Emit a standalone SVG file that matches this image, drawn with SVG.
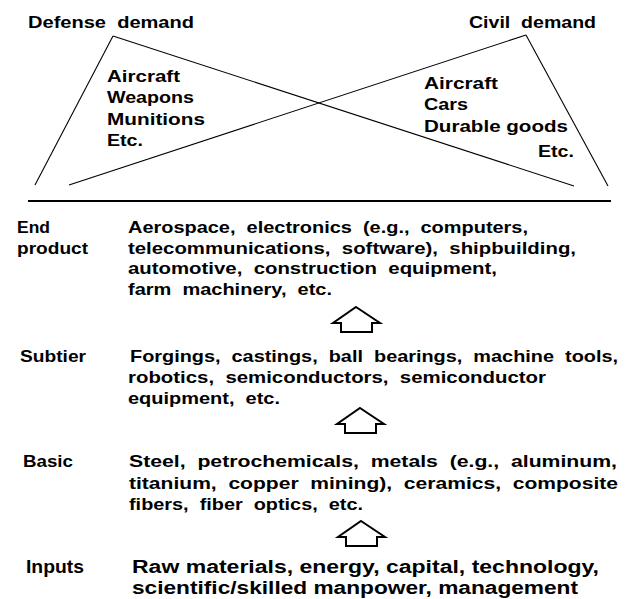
<svg xmlns="http://www.w3.org/2000/svg" xmlns:xlink="http://www.w3.org/1999/xlink" width="626" height="599" viewBox="0 0 626 599">
<style>
text{font-family:"Liberation Sans",Arial,Helvetica,sans-serif;font-weight:bold;font-size:17px;fill:#000;white-space:pre}
.big{font-size:18px}
.ln{stroke:#000;stroke-width:1.1;fill:none}
.rule{stroke:#000;stroke-width:1.8}
.arr{fill:#fff;stroke:#000;stroke-width:2;stroke-linejoin:miter}
</style>
<defs>
<polygon id="uparrow" class="arr" points="0,0 24,16 16,16 16,25 -15,25 -15,16 -23,16"/>
</defs>
<rect width="626" height="599" fill="#fff"/>
<g id="connectors">
<line class="ln" x1="113" y1="36" x2="35" y2="185"/>
<line class="ln" x1="113" y1="36" x2="574" y2="186"/>
<line class="ln" x1="526" y1="35" x2="608" y2="186"/>
<line class="ln" x1="526" y1="35" x2="69" y2="185"/>
<line class="rule" x1="28" y1="201" x2="611" y2="201"/>
<use xlink:href="#uparrow" href="#uparrow" x="356" y="307"/>
<use xlink:href="#uparrow" href="#uparrow" x="360" y="408"/>
<use xlink:href="#uparrow" href="#uparrow" x="361" y="521"/>
</g>
<g id="defense">
<text x="28" y="28" textLength="166" lengthAdjust="spacingAndGlyphs">Defense  demand</text>
<text x="107" y="82" textLength="73" lengthAdjust="spacingAndGlyphs">Aircraft</text>
<text x="107" y="103" textLength="87" lengthAdjust="spacingAndGlyphs">Weapons</text>
<text x="107" y="125" textLength="98" lengthAdjust="spacingAndGlyphs">Munitions</text>
<text x="107" y="146" textLength="36" lengthAdjust="spacingAndGlyphs">Etc.</text>
</g>
<g id="civil">
<text x="469" y="28" textLength="127" lengthAdjust="spacingAndGlyphs">Civil  demand</text>
<text x="424" y="89" textLength="74" lengthAdjust="spacingAndGlyphs">Aircraft</text>
<text x="424" y="110" textLength="44" lengthAdjust="spacingAndGlyphs">Cars</text>
<text x="424" y="132" textLength="144" lengthAdjust="spacingAndGlyphs">Durable goods</text>
<text x="538" y="157" textLength="36" lengthAdjust="spacingAndGlyphs">Etc.</text>
</g>
<g id="end-product">
<text x="17" y="233" textLength="33" lengthAdjust="spacingAndGlyphs">End</text>
<text x="17" y="254" textLength="71" lengthAdjust="spacingAndGlyphs">product</text>
<text x="128" y="233" textLength="400" lengthAdjust="spacingAndGlyphs">Aerospace,  electronics  (e.g.,  computers,</text>
<text x="128" y="254" textLength="448" lengthAdjust="spacingAndGlyphs">telecommunications,  software),  shipbuilding,</text>
<text x="128" y="274" textLength="369" lengthAdjust="spacingAndGlyphs">automotive,  construction  equipment,</text>
<text x="128" y="295" textLength="204" lengthAdjust="spacingAndGlyphs">farm  machinery,  etc.</text>
</g>
<g id="subtier">
<text x="20" y="362" textLength="66" lengthAdjust="spacingAndGlyphs">Subtier</text>
<text x="130" y="362" textLength="488" lengthAdjust="spacingAndGlyphs">Forgings,  castings,  ball  bearings,  machine  tools,</text>
<text x="128" y="383" textLength="418" lengthAdjust="spacingAndGlyphs">robotics,  semiconductors,  semiconductor</text>
<text x="128" y="404" textLength="152" lengthAdjust="spacingAndGlyphs">equipment,  etc.</text>
</g>
<g id="basic">
<text x="23" y="467" textLength="50" lengthAdjust="spacingAndGlyphs">Basic</text>
<text x="129" y="467" textLength="488" lengthAdjust="spacingAndGlyphs">Steel,  petrochemicals,  metals  (e.g.,  aluminum,</text>
<text x="129" y="489" textLength="489" lengthAdjust="spacingAndGlyphs">titanium,  copper  mining),  ceramics,  composite</text>
<text x="129" y="510" textLength="234" lengthAdjust="spacingAndGlyphs">fibers,  fiber  optics,  etc.</text>
</g>
<g id="inputs">
<text class="big" x="26" y="573" textLength="58" lengthAdjust="spacingAndGlyphs">Inputs</text>
<text class="big" x="132" y="573" textLength="467" lengthAdjust="spacingAndGlyphs">Raw materials, energy, capital, technology,</text>
<text class="big" x="132" y="594" textLength="446" lengthAdjust="spacingAndGlyphs">scientific/skilled manpower, management</text>
</g>
</svg>
